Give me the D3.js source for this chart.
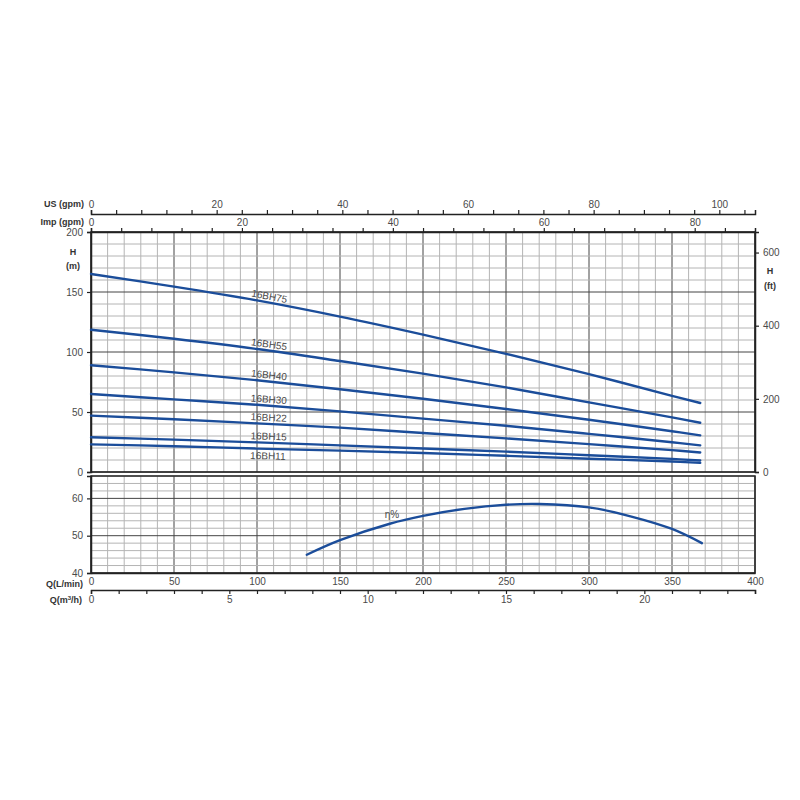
<!DOCTYPE html>
<html>
<head>
<meta charset="utf-8">
<script src="https://cdn.jsdelivr.net/npm/d3@7"></script>
<style>
  body { margin: 0; background: #fff; }
  svg { display: block; }
  text { font-family: "Liberation Sans", Arial, sans-serif; fill: #4a4a4a; }
  .unit { font-weight: bold; fill: #333; }
</style>
</head>
<body>
<svg id="chart" width="800" height="800"></svg>
<script>
// flow points (L/min)
const qLmin = [0, 50, 100, 150, 200, 250, 300, 350, 367]

// head curves (m) per pump model
const modelNames = ["16BH75", "16BH55", "16BH40", "16BH30", "16BH22", "16BH15", "16BH11"]
const head75 = [165, 154.5, 143, 129.5, 114.5, 98.5, 81.5, 63.5, 57.5]
const head55 = [118.5, 111, 102.5, 92.5, 82, 70.5, 58, 45.5, 41]
const head40 = [89, 83, 76.5, 69, 61, 52.5, 43.5, 34, 30.5]
const head30 = [65, 60.5, 56, 50.5, 44.5, 38.5, 31.8, 24.8, 22.2]
const head22 = [47, 44, 40.5, 37, 32.5, 28, 23.2, 18.2, 16.3]
const head15 = [29, 27, 24.7, 22.2, 19.6, 17, 14, 10.9, 9.6]
const head11 = [23, 21.5, 19.5, 17.8, 15.8, 13.5, 11.1, 8.7, 7.6]

// efficiency curve (%)
const etaQ = [130, 150, 180, 200, 225, 250, 270, 300, 325, 350, 368]
const etaVal = [44.9, 48.8, 53.2, 55.3, 57.2, 58.3, 58.5, 57.6, 55.2, 51.8, 48]

// tick labels
const headTicks = [0, 50, 100, 150, 200]
const ftTicks = [0, 200, 400, 600]
const etaTicks = [40, 50, 60]
const lminTicks = [0, 50, 100, 150, 200, 250, 300, 350, 400]
const m3hTicks = [0, 5, 10, 15, 20]
const usTicks = [0, 20, 40, 60, 80, 100]
const impTicks = [0, 20, 40, 60, 80]

const headData = [head75, head55, head40, head30, head22, head15, head11]
    .map((v, i) => ({ name: modelNames[i], values: v }))

const svg = d3.select("#chart")
const lineColor = "#1b4d9a"

const left = 91, right = 755
const topY0 = 472, topY1 = 232
const lowY0 = 573, lowY1 = 476

const x = d3.scaleLinear().domain([0, 400]).range([left, right])
const yH = d3.scaleLinear().domain([0, 200]).range([topY0, topY1])
const yFt = d3.scaleLinear().domain([0, 200 / 0.3048]).range([topY0, topY1])
const yEta = d3.scaleLinear().domain([40, 66]).range([lowY0, lowY1])
const xUS = d3.scaleLinear().domain([0, 400 / 3.785]).range([left, right])
const xImp = d3.scaleLinear().domain([0, 400 / 4.546]).range([left, right])
const xM3 = d3.scaleLinear().domain([0, 24]).range([left, right])

// grid for one panel
const drawGrid = (yScale, hStep, hMajor, y0, y1) => {
    const g = svg.append("g")
    const qs = d3.range(0, 401, 10)
    g.selectAll("line.v").data(qs).join("line")
        .attr("x1", d => x(d)).attr("x2", d => x(d))
        .attr("y1", y0).attr("y2", y1)
        .attr("stroke", d => d % 50 === 0 ? "#444" : "#b4b4b4")
        .attr("stroke-width", 1)
    const [lo, hi] = yScale.domain()
    const hs = d3.range(lo, hi + 0.001, hStep)
    g.selectAll("line.h").data(hs).join("line")
        .attr("x1", left).attr("x2", right)
        .attr("y1", d => yScale(d)).attr("y2", d => yScale(d))
        .attr("stroke", d => Math.abs(d % hMajor) < 0.001 ? "#444" : "#b4b4b4")
        .attr("stroke-width", 1)
    g.append("rect")
        .attr("x", left).attr("y", y1)
        .attr("width", right - left).attr("height", y0 - y1)
        .attr("fill", "none").attr("stroke", "#222").attr("stroke-width", 1.5)
}

drawGrid(yH, 10, 50, topY0, topY1)
drawGrid(yEta, 2, 10, lowY0, lowY1)

// left axes
svg.append("g").attr("transform", `translate(${left},0)`)
    .call(d3.axisLeft(yH).tickValues(headTicks).tickSize(4).tickPadding(4))
svg.append("g").attr("transform", `translate(${left},0)`)
    .call(d3.axisLeft(yEta).tickValues(etaTicks).tickSize(4).tickPadding(4))
// right axis (ft)
svg.append("g").attr("transform", `translate(${right},0)`)
    .call(d3.axisRight(yFt).tickValues(ftTicks).tickSize(4).tickPadding(4))

// top axes
svg.append("g").attr("transform", "translate(0,214)")
    .call(d3.axisTop(xUS).tickValues(d3.range(0, 106, 4)).tickSize(4).tickPadding(2)
        .tickFormat(d => usTicks.includes(d) ? d : ""))
svg.append("g").attr("transform", `translate(0,${topY1})`)
    .call(d3.axisTop(xImp).tickValues(d3.range(0, 88, 4)).tickSize(4).tickPadding(2)
        .tickFormat(d => impTicks.includes(d) ? d : ""))

// bottom axes
svg.append("g").attr("transform", `translate(0,${lowY0})`)
    .call(d3.axisBottom(x).tickValues(lminTicks).tickSize(0).tickPadding(5))
svg.append("g").attr("transform", "translate(0,590)")
    .call(d3.axisBottom(xM3).tickValues(d3.range(0, 25, 1)).tickSize(4).tickPadding(2)
        .tickFormat(d => m3hTicks.includes(d) ? d : ""))

svg.selectAll(".tick text").attr("font-size", 10).attr("fill", "#4a4a4a")
    .attr("font-family", "Liberation Sans, Arial, sans-serif")
svg.selectAll(".domain").attr("stroke", "#222").attr("stroke-width", 1.5)
svg.selectAll(".tick line").attr("stroke", "#222").attr("stroke-width", 1.2)

// unit labels
const unit = (txt, tx, ty, anchor) => {
    const t = svg.append("text").attr("class", "unit")
        .attr("x", tx).attr("y", ty).attr("font-size", 9)
        .attr("text-anchor", anchor).attr("dominant-baseline", "middle")
    if (txt.includes("m3/h")) {
        t.text("Q(m")
        t.append("tspan").text("3").attr("font-size", 6).attr("dy", -3)
        t.append("tspan").text("/h)").attr("dy", 3)
    } else t.text(txt)
}
unit("US (gpm)", 84, 205, "end")
unit("Imp (gpm)", 84, 223, "end")
unit("H", 73, 253, "middle")
unit("(m)", 73, 267, "middle")
unit("H", 770, 272, "middle")
unit("(ft)", 770, 287, "middle")
unit("Q(L/min)", 83, 584.5, "end")
unit("Q(m3/h)", 82, 601, "end")

// head curves
const line = d3.line().curve(d3.curveCatmullRom)
svg.append("g").selectAll("path").data(headData).join("path")
    .attr("d", d => line(qLmin.map((q, i) => [x(q), yH(d.values[i])])))
    .attr("fill", "none").attr("stroke", lineColor)
    .attr("stroke-width", 2.4).attr("stroke-linecap", "round")

// curve labels along the lines
headData.forEach(d => {
    const h = d3.scaleLinear().domain(qLmin).range(d.values)
    const q0 = 96, q1 = 116
    const px = x(q0), py = yH(h(q0))
    const ang = Math.atan2(yH(h(q1)) - py, x(q1) - px) * 180 / Math.PI
    const below = d.name === "16BH11"
    svg.append("text")
        .attr("transform", `translate(${px},${py}) rotate(${ang})`)
        .attr("y", below ? 10.5 : -3)
        .attr("font-size", 10).attr("fill", "#333")
        .text(d.name)
})

// efficiency curve
const lineEta = d3.line().curve(d3.curveCatmullRom)
svg.append("path")
    .attr("d", lineEta(etaQ.map((q, i) => [x(q), yEta(etaVal[i])])))
    .attr("fill", "none").attr("stroke", lineColor)
    .attr("stroke-width", 2.4).attr("stroke-linecap", "round")

svg.append("text")
    .attr("x", x(177)).attr("y", yEta(54.7))
    .attr("font-size", 10).attr("fill", "#333")
    .text("η%")
</script>
</body>
</html>
